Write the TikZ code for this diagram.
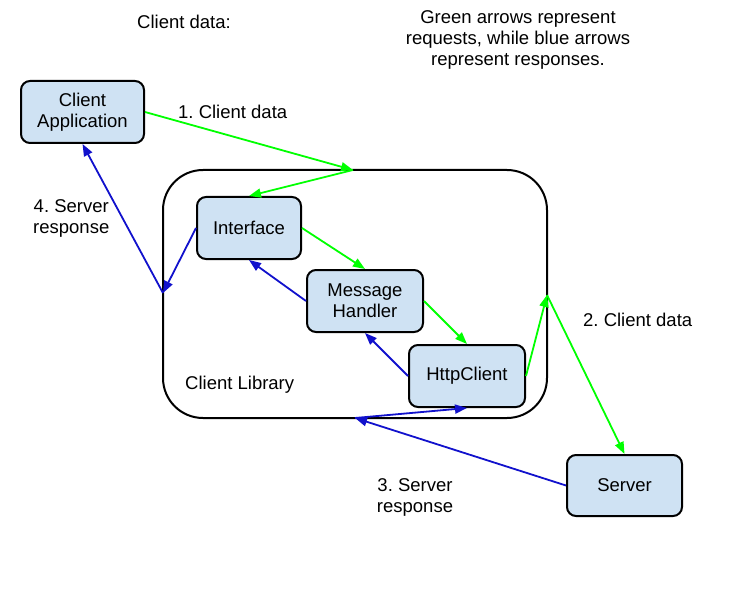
\documentclass[tikz,border=0pt]{standalone}
\usepackage{fontspec}
\setmainfont{Liberation Sans}
\usetikzlibrary{arrows.meta}
\definecolor{boxfill}{RGB}{207,226,243}
\definecolor{reqgreen}{RGB}{0,255,0}
\definecolor{resblue}{RGB}{17,17,204}
\frenchspacing
\begin{document}
\begin{tikzpicture}[x=1pt,y=-1pt,
  every node/.style={font=\fontsize{18.5}{21}\selectfont},
  comp/.style={draw=black,line width=2pt,fill=boxfill,rounded corners=9pt,align=center,inner sep=0pt},
  lbl/.style={align=center,inner sep=0pt},
  req/.style={draw=reqgreen,line width=1.8pt,-{Triangle[length=12pt,width=9pt]}},
  res/.style={draw=resblue,line width=1.8pt,-{Triangle[length=12pt,width=9pt]}}
]
\useasboundingbox (0,0) rectangle (753,591);
% client library container
\node[draw=black,line width=2pt,rounded corners=40pt,minimum width=384pt,minimum height=248pt,inner sep=0pt] (lib) at (355,294) {};
\node[lbl,anchor=west] (libl) at (185,385) {Client Library};
% components
\node[comp,minimum width=123pt,minimum height=62pt] (app) at (82.5,112) {Client\\Application};
\node[comp,minimum width=104pt,minimum height=62pt] (intf) at (249,228) {Interface};
\node[comp,minimum width=116pt,minimum height=62pt] (mh) at (365,301) {Message\\Handler};
\node[comp,minimum width=116pt,minimum height=62pt] (hc) at (467,376) {HttpClient};
\node[comp,minimum width=115pt,minimum height=61pt] (srv) at (624.5,485.5) {Server};
% junction points on container
\coordinate (j1) at (353,170);
\coordinate (j2) at (547,295);
\coordinate (j3) at (355,418);
\coordinate (j4) at (163,293);
% labels
\node[lbl] (t1) at (184,22) {Client data:};
\node[lbl] (t2) at (518,40) {Green arrows represent\\requests, while blue arrows\\represent responses.};
\node[lbl,anchor=west] (l1) at (178,112) {1. Client data};
\node[lbl,anchor=west] (l2) at (583,320) {2. Client data};
\node[lbl] (l3) at (415,497) {3. Server\\response};
\node[lbl,anchor=west] (l4) at (33,218) {4. Server\\response};
% requests (green)
\draw[req] (app.east) -- (j1);
\draw[req] (j1) -- (intf.north);
\draw[req] (intf.east) -- (mh.north);
\draw[req] (mh.east) -- (hc.north);
\draw[req] (hc.east) -- (j2);
\draw[req] (j2) -- (srv.north);
% responses (blue)
\draw[res] (srv.west) -- (j3);
\draw[res] (j3) -- (hc.south);
\draw[res] (hc.west) -- (mh.south);
\draw[res] (mh.west) -- (intf.south);
\draw[res] (intf.west) -- (j4);
\draw[res] (j4) -- (app.south);
\end{tikzpicture}
\end{document}
